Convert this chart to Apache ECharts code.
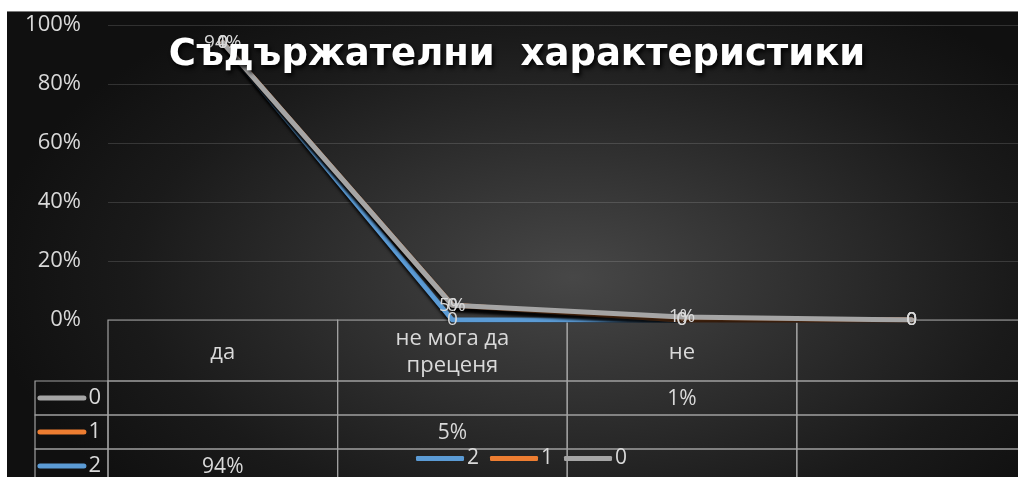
<!DOCTYPE html>
<html lang="bg">
<head>
<meta charset="utf-8">
<title>Съдържателни характеристики</title>
<script src="https://cdn.jsdelivr.net/npm/echarts@6/dist/echarts.min.js"></script>
<style>
  html, body { margin: 0; padding: 0; width: 1018px; height: 477px; overflow: hidden; background: #ffffff; position: relative; }
  #chart {
    position: absolute; left: 7px; top: 11px; width: 1030px; height: 476px;
    background: radial-gradient(586px 326px at 566px 266px, #474747 0%, #2f2f2f 40%, #1a1a1a 75%, #101010 100%);
  }
  #edge { position: absolute; left: 7px; top: 11px; width: 1011px; height: 1px; background: #7a7a7a; }
</style>
</head>
<body>
<div id="chart"></div>
<div id="edge"></div>
<script>
// Categories (table header) and the three stacked series
const categories = ['да', 'не мога да\nпреценя', 'не', ''];
const seriesNames = ['2', '1', '0'];
const values2 = [0.94, 0, 0, 0];
const values1 = [0, 0.05, 0, 0];
const values0 = [0, 0, 0.01, 0];
// Data-table rows, top to bottom
const tableRowNames = ['0', '1', '2'];
const yTickStep = 0.2;

const colors = { '2': '#5B9BD5', '1': '#ED7D31', '0': '#A5A5A5' };
const seriesValues = { '2': values2, '1': values1, '0': values0 };

const textColor = '#d9d9d9';
const borderColor = '#a0a0a0';
const bodyFont = 'Open Sans';
const keyColWidth = 73;

const pct = v => Math.round(v * 100) + '%';
const cellText = v => (v ? pct(v) : '');

const plotLeft = 101, plotWidth = 918.4;

const chart = echarts.init(document.getElementById('chart'), null, { renderer: 'canvas' });

const lineSeries = seriesNames.map(name => ({
  name: name,
  type: 'line',
  xAxisIndex: 0,
  yAxisIndex: 0,
  stack: 'total',
  data: seriesValues[name],
  symbol: 'circle',
  symbolSize: 1,
  showSymbol: true,
  itemStyle: { color: colors[name] },
  lineStyle: {
    color: colors[name], width: 5, cap: 'round', join: 'round',
    shadowColor: 'rgba(0,0,0,0.85)', shadowBlur: 3, shadowOffsetX: 1, shadowOffsetY: 4
  },
  label: {
    show: true, position: 'inside', color: textColor,
    fontFamily: bodyFont, fontSize: 19,
    formatter: p => (p.value === 0 ? '0' : pct(p.value))
  },
  emphasis: { disabled: true },
  z: 3
}));

function cellRect(api) {
  const c = api.coord([api.value(0), api.value(1)]);
  const s = api.size([1, 1]);
  return { x: c[0] - s[0] / 2, y: c[1] - s[1] / 2, width: s[0], height: s[1], cx: c[0], cy: c[1] };
}

const headerSeries = {
  type: 'custom',
  name: 'header',
  xAxisIndex: 1,
  yAxisIndex: 1,
  silent: true,
  data: categories.map((c, i) => [i, 0]),
  renderItem: (params, api) => {
    const r = cellRect(api);
    const i = api.value(0);
    return {
      type: 'group',
      children: [
        { type: 'rect', shape: { x: r.x, y: r.y, width: r.width, height: r.height },
          style: { fill: 'none', stroke: borderColor, lineWidth: 1.2 } },
        { type: 'text',
          style: { text: categories[i], x: r.cx, y: r.cy + 2, align: 'center', verticalAlign: 'middle',
                   fill: textColor, fontFamily: bodyFont, fontSize: 22, lineHeight: 27 } }
      ]
    };
  }
};

const bodyData = [];
tableRowNames.forEach((rowName, r) => {
  seriesValues[rowName].forEach((v, c) => bodyData.push([c, r]));
});

const bodySeries = {
  type: 'custom',
  name: 'table',
  xAxisIndex: 2,
  yAxisIndex: 2,
  silent: true,
  data: bodyData,
  renderItem: (params, api) => {
    const r = cellRect(api);
    const col = api.value(0), row = api.value(1);
    const v = seriesValues[tableRowNames[row]][col];
    const children = [
      { type: 'rect', shape: { x: r.x, y: r.y, width: r.width, height: r.height },
        style: { fill: 'none', stroke: borderColor, lineWidth: 1.2 } },
      { type: 'text',
        style: { text: cellText(v), x: r.cx, y: r.cy + 1, align: 'center', verticalAlign: 'middle',
                 fill: textColor, fontFamily: bodyFont, fontSize: 21 } }
    ];
    if (col === 0) {
      children.push({ type: 'rect', shape: { x: r.x - keyColWidth, y: r.y, width: keyColWidth, height: r.height },
        style: { fill: 'none', stroke: borderColor, lineWidth: 1.2 } });
    }
    return { type: 'group', children: children };
  }
};

const keyRich = { t: { color: textColor, fontFamily: bodyFont, fontSize: 22, padding: [0, 0, 0, 2] } };
tableRowNames.forEach((n, i) => {
  keyRich['k' + i] = { width: 49, height: 5, backgroundColor: colors[n], borderRadius: 3 };
});

const option = {
  animation: false,
  title: {
    text: 'Съдържателни  характеристики',
    left: 505,
    textAlign: 'center',
    top: 21,
    textStyle: {
      color: '#ffffff', fontFamily: 'DejaVu Sans', fontWeight: 'bold', fontSize: 37,
      textShadowColor: 'rgba(0,0,0,0.9)', textShadowBlur: 4, textShadowOffsetX: 2, textShadowOffsetY: 3
    }
  },
  legend: {
    data: seriesNames,
    left: 404,
    top: 432,
    icon: 'roundRect',
    itemWidth: 48,
    itemHeight: 5,
    itemGap: 11,
    selectedMode: false,
    textStyle: { color: textColor, fontFamily: bodyFont, fontSize: 21, padding: [0, 0, 0, -2] }
  },
  grid: [
    { left: plotLeft, top: 14, width: plotWidth, height: 295 },
    { left: plotLeft, top: 309, width: plotWidth, height: 61 },
    { left: plotLeft, top: 370, width: plotWidth, height: 102 }
  ],
  xAxis: [
    { type: 'category', gridIndex: 0, data: categories, boundaryGap: true,
      axisLine: { show: false }, axisTick: { show: false }, axisLabel: { show: false } },
    { type: 'category', gridIndex: 1, data: categories, show: false },
    { type: 'category', gridIndex: 2, data: categories, show: false }
  ],
  yAxis: [
    { type: 'value', gridIndex: 0, min: 0, max: 1, interval: yTickStep,
      axisLine: { show: false }, axisTick: { show: false },
      axisLabel: { formatter: v => pct(v), color: textColor, fontFamily: bodyFont, fontSize: 22, margin: 27 },
      splitLine: { lineStyle: { color: 'rgba(255,255,255,0.14)', width: 1 } } },
    { type: 'category', gridIndex: 1, data: [''], show: false },
    { type: 'category', gridIndex: 2, data: tableRowNames, inverse: true,
      axisLine: { show: false }, axisTick: { show: false }, splitLine: { show: false },
      axisLabel: {
        margin: 7,
        formatter: (name, idx) => '{k' + idx + '|}{t|' + name + '}',
        rich: keyRich
      } }
  ],
  series: [...lineSeries, headerSeries, bodySeries]
};

chart.setOption(option);
</script>
</body>
</html>
